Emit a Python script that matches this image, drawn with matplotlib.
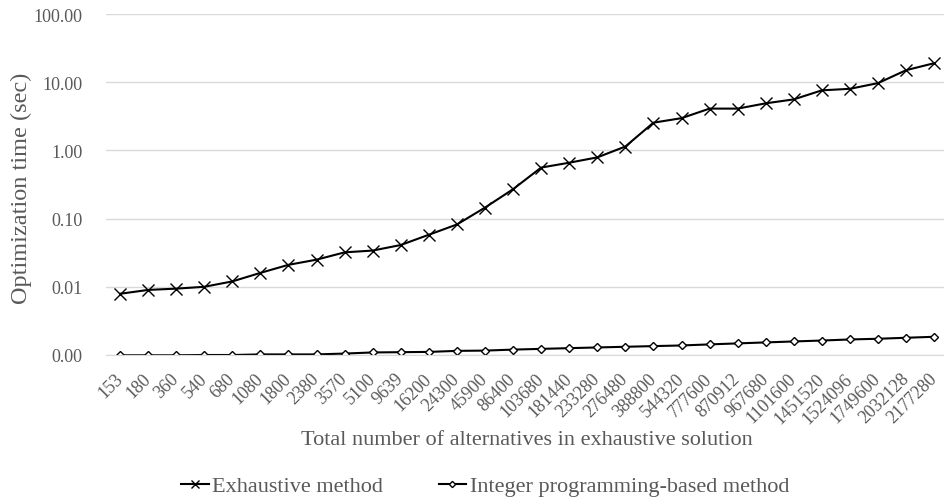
import matplotlib.pyplot as plt
from matplotlib.ticker import FixedLocator, FixedFormatter

alternatives = ["153", "180", "360", "540", "680", "1080", "1800", "2380", "3570", "5100",
                "9639", "16200", "24300", "45900", "86400", "103680", "181440", "233280",
                "276480", "388800", "544320", "777600", "870912", "967680", "1101600",
                "1451520", "1524096", "1749600", "2032128", "2177280"]

exhaustive = [0.0079, 0.0090, 0.0094, 0.0100, 0.0120, 0.0160, 0.0210, 0.0250, 0.0320, 0.0340,
              0.0410, 0.0580, 0.0820, 0.145, 0.27, 0.56, 0.66, 0.79,
              1.14, 2.55, 2.97, 4.1, 4.1, 4.9, 5.6,
              7.6, 8.0, 9.7, 15.0, 19.0]

integer_prog = [0.00099, 0.00099, 0.00099, 0.00100, 0.00100, 0.00102, 0.00102, 0.00102, 0.00105, 0.00109,
                0.00110, 0.00111, 0.00115, 0.00116, 0.00120, 0.00123, 0.00126, 0.00129,
                0.00132, 0.00135, 0.00138, 0.00143, 0.00148, 0.00153, 0.00158,
                0.00163, 0.00169, 0.00173, 0.00179, 0.00185]

yticks = [0.001, 0.01, 0.1, 1, 10, 100]

plt.rcParams['font.family'] = ['Liberation Serif', 'DejaVu Serif']
grey = '#595959'

fig = plt.figure(figsize=(9.44, 5.02), dpi=100)
ax = fig.add_axes([106 / 944, 1 - 356 / 502, 1 - 106 / 944, (356 - 15) / 502])

x = list(range(len(alternatives)))
ax.plot(x, exhaustive, color='black', lw=1.5, marker='x', ms=8, mew=1.0,
        label='Exhaustive method')
ax.plot(x, integer_prog, color='black', lw=1.5, marker='D', ms=4.5, mfc='white', mew=1.0,
        label='Integer programming-based method')

ax.set_yscale('log')
ax.set_ylim(0.001, 100)
ax.yaxis.set_major_locator(FixedLocator(yticks))
ax.yaxis.set_major_formatter(FixedFormatter(['%.2f' % v for v in yticks]))
ax.yaxis.set_minor_locator(FixedLocator([]))
ax.set_xlim(-0.5, 29.35)
ax.set_xticks(x)
ax.set_xticklabels(alternatives, rotation=45, ha='right', va='center',
                   rotation_mode='anchor')

ax.grid(axis='y', color='#d9d9d9', lw=1)
ax.set_axisbelow(True)
for s in ['top', 'right', 'left']:
    ax.spines[s].set_visible(False)
ax.spines['bottom'].set_color('#d9d9d9')
ax.tick_params(length=0, colors=grey, labelsize=13)
ax.tick_params(axis='x', pad=15)
ax.tick_params(axis='y', pad=17)

fig.text(21 / 944, 1 - 188 / 502, 'Optimization time (sec)', rotation=90,
         ha='center', va='center', fontsize=17.5, color=grey)
fig.text(527 / 944, 1 - 441 / 502, 'Total number of alternatives in exhaustive solution',
         ha='center', va='center', fontsize=16, color=grey)

leg = fig.legend(loc='center', bbox_to_anchor=(485 / 944, 1 - 487 / 502), ncol=2, frameon=False,
                 fontsize=16, handlelength=1.25, handletextpad=0.15, columnspacing=2.5,
                 markerscale=0.7)
for t in leg.get_texts():
    t.set_color(grey)

fig.savefig('out.png', dpi=100)
